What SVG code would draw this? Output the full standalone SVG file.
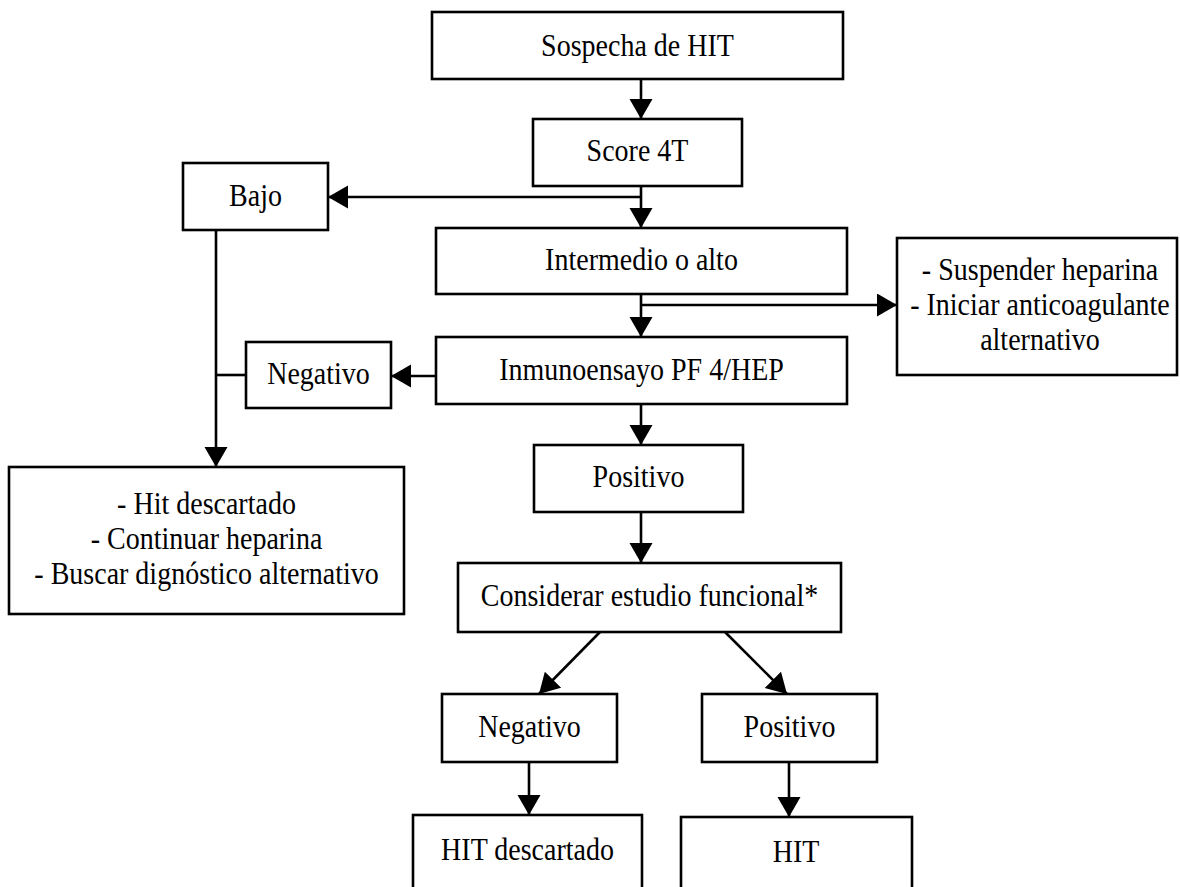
<svg xmlns="http://www.w3.org/2000/svg" width="1180" height="887" viewBox="0 0 1180 887">
  <style>
    .box { fill: #ffffff; stroke: #000000; stroke-width: 2.6; }
    .lbl { font-family: "Liberation Serif", "Times New Roman", serif; font-size: 28px; fill: #000000; text-anchor: middle; }
    .wire { fill: none; stroke: #000000; stroke-width: 2.6; }
    .arrow { marker-end: url(#head); }
  </style>
  <defs>
    <marker id="head" markerUnits="userSpaceOnUse" markerWidth="21" markerHeight="24" refX="20" refY="11.5" orient="auto">
      <path d="M0,0 L20,11.5 L0,23 Z" fill="#000000"/>
    </marker>
  </defs>
  <rect x="0" y="0" width="1180" height="887" fill="#ffffff"/>

  <g id="connectors">
    <line class="wire arrow" x1="641" y1="79" x2="641" y2="119"/>
    <line class="wire arrow" x1="641" y1="186" x2="641" y2="228"/>
    <line class="wire arrow" x1="641" y1="197" x2="328" y2="197"/>
    <line class="wire arrow" x1="216" y1="230" x2="216" y2="467"/>
    <line class="wire arrow" x1="641" y1="294" x2="641" y2="337"/>
    <line class="wire arrow" x1="641" y1="305" x2="897" y2="305"/>
    <line class="wire arrow" x1="436" y1="376" x2="391" y2="376"/>
    <line class="wire" x1="246" y1="375" x2="216" y2="375"/>
    <line class="wire arrow" x1="641" y1="404" x2="641" y2="445"/>
    <line class="wire arrow" x1="641" y1="512" x2="641" y2="563"/>
    <line class="wire arrow" x1="600" y1="632" x2="539" y2="694"/>
    <line class="wire arrow" x1="725" y1="632" x2="787" y2="694"/>
    <line class="wire arrow" x1="529" y1="762" x2="529" y2="815"/>
    <line class="wire arrow" x1="789" y1="762" x2="789" y2="817"/>
  </g>

  <!-- labels are drawn slightly taller than their width via a vertical scale -->
  <g id="sospecha">
    <rect class="box" x="432" y="12" width="411" height="67"/>
    <text class="lbl" transform="translate(637.5,56) scale(1,1.12)">Sospecha de HIT</text>
  </g>
  <g id="score4t">
    <rect class="box" x="533" y="119" width="209" height="67"/>
    <text class="lbl" transform="translate(637.5,161) scale(1,1.12)">Score 4T</text>
  </g>
  <g id="bajo">
    <rect class="box" x="183" y="163" width="145" height="67"/>
    <text class="lbl" transform="translate(255.5,206) scale(1,1.12)">Bajo</text>
  </g>
  <g id="intermedio">
    <rect class="box" x="436" y="228" width="411" height="66"/>
    <text class="lbl" transform="translate(641.5,270) scale(1,1.12)">Intermedio o alto</text>
  </g>
  <g id="suspender">
    <rect class="box" x="897" y="238" width="280" height="137"/>
    <text class="lbl" transform="translate(1040,280) scale(1,1.12)">- Suspender heparina</text>
    <text class="lbl" transform="translate(1040,315) scale(1,1.12)">- Iniciar anticoagulante</text>
    <text class="lbl" transform="translate(1040,350) scale(1,1.12)">alternativo</text>
  </g>
  <g id="inmunoensayo">
    <rect class="box" x="436" y="337" width="411" height="67"/>
    <text class="lbl" transform="translate(641.5,380) scale(1,1.12)">Inmunoensayo PF 4/HEP</text>
  </g>
  <g id="negativo1">
    <rect class="box" x="246" y="342" width="145" height="66"/>
    <text class="lbl" transform="translate(318.5,384) scale(1,1.12)">Negativo</text>
  </g>
  <g id="descartado1">
    <rect class="box" x="9" y="467" width="395" height="147"/>
    <text class="lbl" transform="translate(206.5,514) scale(1,1.12)">- Hit descartado</text>
    <text class="lbl" transform="translate(206.5,549) scale(1,1.12)">- Continuar heparina</text>
    <text class="lbl" transform="translate(206.5,584) scale(1,1.12)">- Buscar dignóstico alternativo</text>
  </g>
  <g id="positivo1">
    <rect class="box" x="534" y="445" width="209" height="67"/>
    <text class="lbl" transform="translate(638.5,487) scale(1,1.12)">Positivo</text>
  </g>
  <g id="funcional">
    <rect class="box" x="458" y="563" width="383" height="69"/>
    <text class="lbl" transform="translate(649.5,606) scale(1,1.12)">Considerar estudio funcional*</text>
  </g>
  <g id="negativo2">
    <rect class="box" x="442" y="694" width="175" height="68"/>
    <text class="lbl" transform="translate(529.5,737) scale(1,1.12)">Negativo</text>
  </g>
  <g id="positivo2">
    <rect class="box" x="702" y="694" width="175" height="68"/>
    <text class="lbl" transform="translate(789.5,737) scale(1,1.12)">Positivo</text>
  </g>
  <g id="hitdescartado">
    <rect class="box" x="413" y="815" width="229" height="90"/>
    <text class="lbl" transform="translate(527.5,860) scale(1,1.12)">HIT descartado</text>
  </g>
  <g id="hit">
    <rect class="box" x="681" y="817" width="231" height="90"/>
    <text class="lbl" transform="translate(796,862) scale(1,1.12)">HIT</text>
  </g>
</svg>
